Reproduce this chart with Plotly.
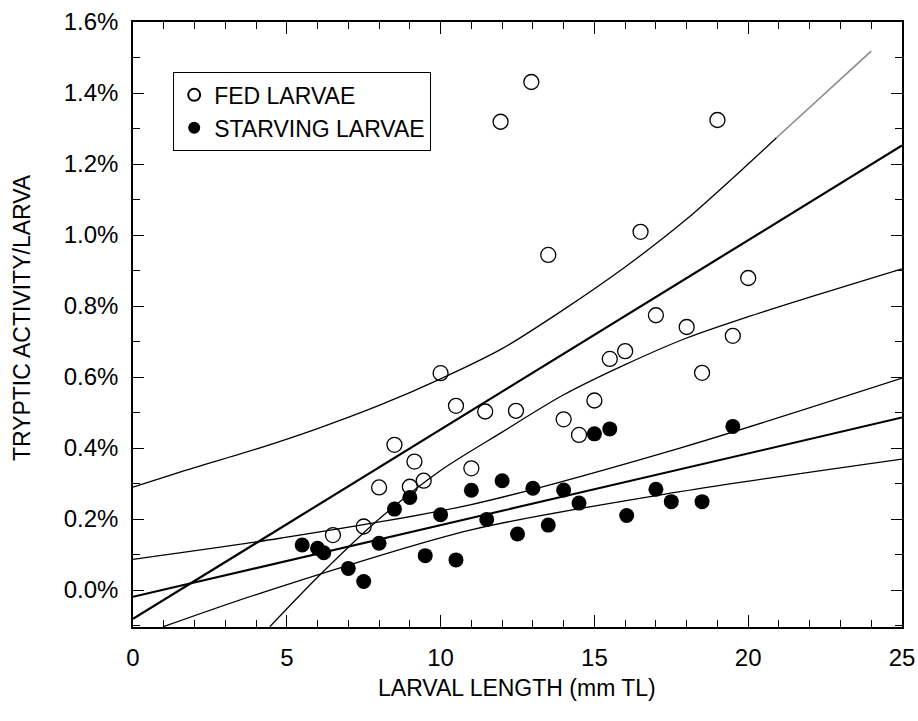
import plotly.graph_objects as go

# Fed larvae (open circles): length (mm TL), tryptic activity (%)
fed_x = [6.5, 7.5, 8.0, 8.5, 9.0, 9.15, 9.45, 10.0, 10.5, 11.0, 11.45, 11.95, 12.45, 12.95,
         13.5, 14.0, 14.5, 15.0, 15.5, 16.0, 16.5, 17.0, 18.0, 18.5, 19.0, 19.5, 20.0]
fed_y = [0.155, 0.179, 0.289, 0.409, 0.291, 0.362, 0.308, 0.611, 0.519, 0.343, 0.503, 1.319, 0.505, 1.431,
         0.944, 0.481, 0.437, 0.534, 0.651, 0.673, 1.009, 0.774, 0.741, 0.612, 1.324, 0.716, 0.879]

# Starving larvae (filled circles)
starv_x = [5.5, 6.0, 6.2, 7.0, 7.5, 8.0, 8.5, 9.0, 9.5, 10.0, 10.5, 11.0, 11.5, 12.0, 12.5,
           13.0, 13.5, 14.0, 14.5, 15.0, 15.5, 16.05, 17.0, 17.5, 18.5, 19.5]
starv_y = [0.127, 0.118, 0.105, 0.061, 0.024, 0.132, 0.228, 0.261, 0.097, 0.212, 0.085, 0.281, 0.199, 0.308, 0.158,
           0.287, 0.183, 0.282, 0.245, 0.440, 0.454, 0.210, 0.284, 0.249, 0.249, 0.461]

# Regression lines and confidence bands
fed_fit_x = [0.0, 25.0]
fed_fit_y = [-0.081, 1.252]
fed_upper_x = [0.0, 2.0, 4.0, 6.0, 8.0, 10.0, 12.0, 14.0, 16.0, 18.0, 20.0, 20.92]
fed_upper_y = [0.290, 0.345, 0.397, 0.455, 0.520, 0.595, 0.680, 0.790, 0.910, 1.045, 1.200, 1.274]
fed_upper_gray_x = [20.92, 24.0]
fed_upper_gray_y = [1.274, 1.518]
fed_lower_x = [4.45, 6.0, 8.0, 10.0, 12.0, 14.0, 16.0, 18.0, 20.0, 22.0, 25.0]
fed_lower_y = [-0.103, 0.036, 0.200, 0.337, 0.445, 0.550, 0.635, 0.710, 0.770, 0.825, 0.905]

starv_fit_x = [0.0, 25.0]
starv_fit_y = [-0.019, 0.486]
starv_upper_x = [0.0, 4.78, 10.96, 17.78, 25.0]
starv_upper_y = [0.0865, 0.146, 0.240, 0.400, 0.597]
starv_lower_x = [0.99, 4.13, 10.96, 17.78, 25.0]
starv_lower_y = [-0.103, -0.009, 0.169, 0.277, 0.369]

y_tickvals = [0.0, 0.2, 0.4, 0.6, 0.8, 1.0, 1.2, 1.4, 1.6]
y_ticktext = ["0.0%", "0.2%", "0.4%", "0.6%", "0.8%", "1.0%", "1.2%", "1.4%", "1.6%"]
x_tickvals = [0, 5, 10, 15, 20, 25]

FONT = "Liberation Sans"
FS = 23

fig = go.Figure()

def add_line(xs, ys, width, color="black", shape="spline"):
    fig.add_trace(go.Scatter(x=xs, y=ys, mode="lines", showlegend=False, hoverinfo="skip",
                             line=dict(color=color, width=width, shape=shape, smoothing=0.8)))

add_line(fed_upper_x, fed_upper_y, 1.3)
add_line(fed_upper_gray_x, fed_upper_gray_y, 1.6, color="#8a8a8a", shape="linear")
add_line(fed_lower_x, fed_lower_y, 1.3)
add_line(fed_fit_x, fed_fit_y, 2.2, shape="linear")
add_line(starv_upper_x, starv_upper_y, 1.3)
add_line(starv_lower_x, starv_lower_y, 1.3)
add_line(starv_fit_x, starv_fit_y, 2.0, shape="linear")

fig.add_trace(go.Scatter(x=fed_x, y=fed_y, mode="markers", name="FED LARVAE",
                         marker=dict(symbol="circle-open", size=15, color="black", line=dict(width=1.3))))
fig.add_trace(go.Scatter(x=starv_x, y=starv_y, mode="markers", name="STARVING LARVAE",
                         marker=dict(symbol="circle", size=15, color="black")))

fig.update_layout(
    width=918, height=721,
    margin=dict(l=133, r=16, t=22, b=94, autoexpand=False),
    paper_bgcolor="white", plot_bgcolor="white",
    font=dict(family=FONT, size=FS, color="black"),
    legend=dict(x=0.052, y=0.917, xanchor="left", yanchor="top",
                bordercolor="black", borderwidth=1.2, bgcolor="white",
                font=dict(family=FONT, size=FS), itemsizing="constant",
                tracegroupgap=0),
    annotations=[
        dict(text="LARVAL LENGTH (mm TL)", xref="paper", yref="paper", x=0.499, y=-0.101,
             xanchor="center", yanchor="middle", showarrow=False, font=dict(family=FONT, size=FS)),
        dict(text="TRYPTIC ACTIVITY/LARVA", xref="paper", yref="paper", x=-0.144, y=0.511,
             xanchor="center", yanchor="middle", textangle=-90, showarrow=False,
             font=dict(family=FONT, size=FS)),
    ],
)
fig.update_xaxes(
    range=[0, 25], tickvals=x_tickvals, ticks="inside", ticklen=12, tickwidth=1.2,
    tickcolor="black", showline=True, linecolor="black", linewidth=1.5, mirror="ticks",
    showgrid=False, zeroline=False, automargin=False, ticklabelstandoff=8,
    minor=dict(dtick=1, ticks="inside", ticklen=7, tickwidth=1, tickcolor="black", showgrid=False),
    tickfont=dict(family=FONT, size=FS + 1),
)
fig.update_yaxes(
    range=[-0.104, 1.6], tickvals=y_tickvals, ticktext=y_ticktext, ticks="inside", ticklen=11,
    tickwidth=1.2, tickcolor="black", showline=True, linecolor="black", linewidth=1.5, mirror="ticks",
    showgrid=False, zeroline=False, automargin=False, ticklabelstandoff=8,
    minor=dict(tickvals=[-0.1, 0.1, 0.3, 0.5, 0.7, 0.9, 1.1, 1.3, 1.5], ticks="inside", ticklen=7,
               tickwidth=1, tickcolor="black", showgrid=False),
    tickfont=dict(family=FONT, size=FS + 1),
)

# remove the default page margin so the 918x721 figure fills the window exactly
fig.write_html("out.html",
               config={"displayModeBar": False},
               post_script="document.body.style.margin='0';document.body.style.overflow='hidden';")
